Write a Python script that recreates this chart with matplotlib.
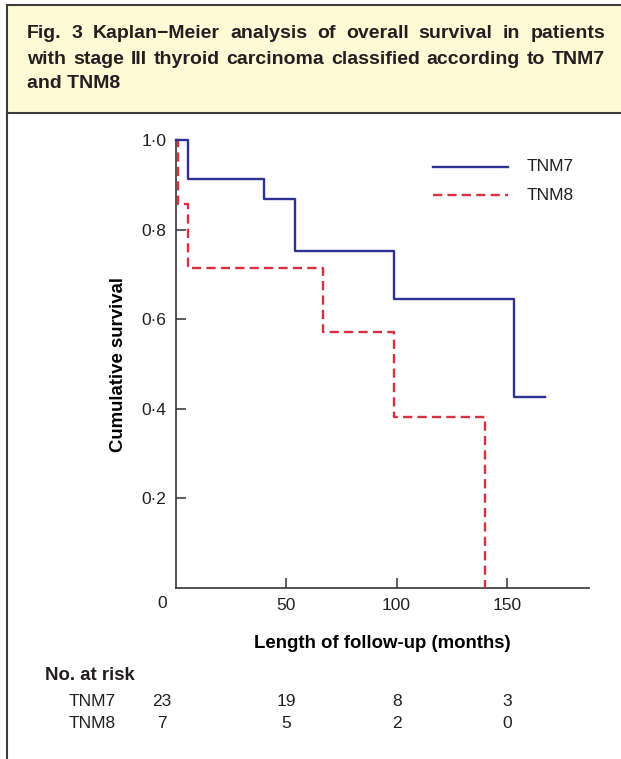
import matplotlib
matplotlib.use('Agg')
import matplotlib.pyplot as plt
from matplotlib.patches import Rectangle
from matplotlib.lines import Line2D

plt.rcParams['font.family'] = ['Liberation Sans', 'DejaVu Sans']
plt.rcParams['text.color'] = '#231f20'

# data
tnm7_t = [0, 5.8, 40, 54.2, 99, 153, 167.3]
tnm7_s = [1.0, 0.912, 0.868, 0.752, 0.645, 0.427, 0.427]
tnm8_t = [0, 1, 5.8, 66.8, 98.8, 140]
tnm8_s = [1.0, 0.857, 0.714, 0.571, 0.381, 0.0]

risk_times = [0, 50, 100, 150]
risk_tnm7 = [23, 19, 8, 3]
risk_tnm8 = [7, 5, 2, 0]

yticks = [0.2, 0.4, 0.6, 0.8, 1.0]
ytick_labels = ['0·2', '0·4', '0·6', '0·8', '1·0']
xticks = [50, 100, 150]

title_lines = [
    "Fig. 3 Kaplan\u2212Meier analysis of overall survival in patients",
    "with stage III thyroid carcinoma classified according to TNM7",
    "and TNM8",
]

W, H = 621, 759
blue = '#2e3192'
red = '#d8313f'
dark = '#333333'
FS = 12.5
FSB = 13.4

def fx(x):
    return x / W

def fy(y):
    return 1 - y / H

fig = plt.figure(figsize=(W / 100, H / 100), dpi=100)

# header box and frame line
fig.patches.append(Rectangle((fx(7), fy(113)), 1.2, (113 - 5) / H, transform=fig.transFigure,
                             facecolor='#fffad6', edgecolor='#3c3c3c', lw=1.5, zorder=0))
fig.lines.append(Line2D([fx(7), fx(7)], [fy(113), 0], transform=fig.transFigure,
                        color='#3c3c3c', lw=1.5))

ax = fig.add_axes([fx(175.5), fy(588), fx(589) - fx(175.5), fy(140) - fy(588)])
ax.step(tnm7_t, tnm7_s, where='post', color=blue, lw=1.7, clip_on=False, zorder=4)
ax.step(tnm8_t, tnm8_s, where='post', color=red, lw=1.7, clip_on=False, zorder=3,
        linestyle=(0, (3.9, 2.2)))

ax.set_xlim(0, 187)
ax.set_ylim(0, 1.0)
for s in ['top', 'right']:
    ax.spines[s].set_visible(False)
for s in ['left', 'bottom']:
    ax.spines[s].set_color(dark)
    ax.spines[s].set_linewidth(1.2)

ax.set_yticks(yticks)
ax.set_yticklabels(ytick_labels)
ax.set_xticks(xticks)
ax.set_xticklabels([str(v) for v in xticks])
ax.tick_params(direction='in', length=7, width=1.1, color=dark, labelsize=FS,
               labelcolor='#231f20')
ax.tick_params(axis='y', pad=6.5)
ax.tick_params(axis='x', pad=7)
ax.text(fx(162), fy(604), '0', transform=fig.transFigure, fontsize=FS,
        ha='center', va='center')

ax.set_xlabel('Length of follow-up (months)', fontsize=FSB, fontweight='bold', labelpad=16)
ax.set_ylabel('Cumulative survival', fontsize=FSB, fontweight='bold')
ax.yaxis.set_label_coords((127 - 175.5) / (589 - 175.5), 0.5)

# legend
fig.lines.append(Line2D([fx(433), fx(508)], [fy(166.7)] * 2, transform=fig.transFigure,
                        color=blue, lw=1.7))
fig.lines.append(Line2D([fx(433), fx(508)], [fy(195)] * 2, transform=fig.transFigure,
                        color=red, lw=1.7, linestyle=(0, (3.9, 2.2))))
fig.text(fx(527), fy(166.7), 'TNM7', fontsize=FS, va='center')
fig.text(fx(527), fy(195), 'TNM8', fontsize=FS, va='center')

# number at risk table
fig.text(fx(45), fy(676), 'No. at risk', fontsize=FSB, fontweight='bold', va='center')
fig.text(fx(69), fy(701.5), 'TNM7', fontsize=FS, va='center')
fig.text(fx(69), fy(723.5), 'TNM8', fontsize=FS, va='center')
for t, a, b in zip(risk_times, risk_tnm7, risk_tnm8):
    xp = 162 if t == 0 else 175.5 + t * (589 - 175.5) / 187
    fig.text(fx(xp), fy(701.5), str(a), fontsize=FS, ha='center', va='center')
    fig.text(fx(xp), fy(723.5), str(b), fontsize=FS, ha='center', va='center')

# justified caption
fig.canvas.draw()
r = fig.canvas.get_renderer()
x0, x1 = 27, 605
TFS = 14
for i, line in enumerate(title_lines):
    y = fy(38.5 + 25 * i)
    words = line.split(' ')
    if i == len(title_lines) - 1:
        fig.text(fx(x0), y, line, fontsize=TFS, fontweight='bold', va='baseline')
        continue
    texts = [fig.text(0, y, w, fontsize=TFS, fontweight='bold', va='baseline') for w in words]
    widths = [t.get_window_extent(r).width for t in texts]
    gap = (x1 - x0 - sum(widths)) / (len(words) - 1)
    xp = x0
    for t, w in zip(texts, widths):
        t.set_x(fx(xp))
        xp += w + gap

fig.savefig('out.png', dpi=100)
